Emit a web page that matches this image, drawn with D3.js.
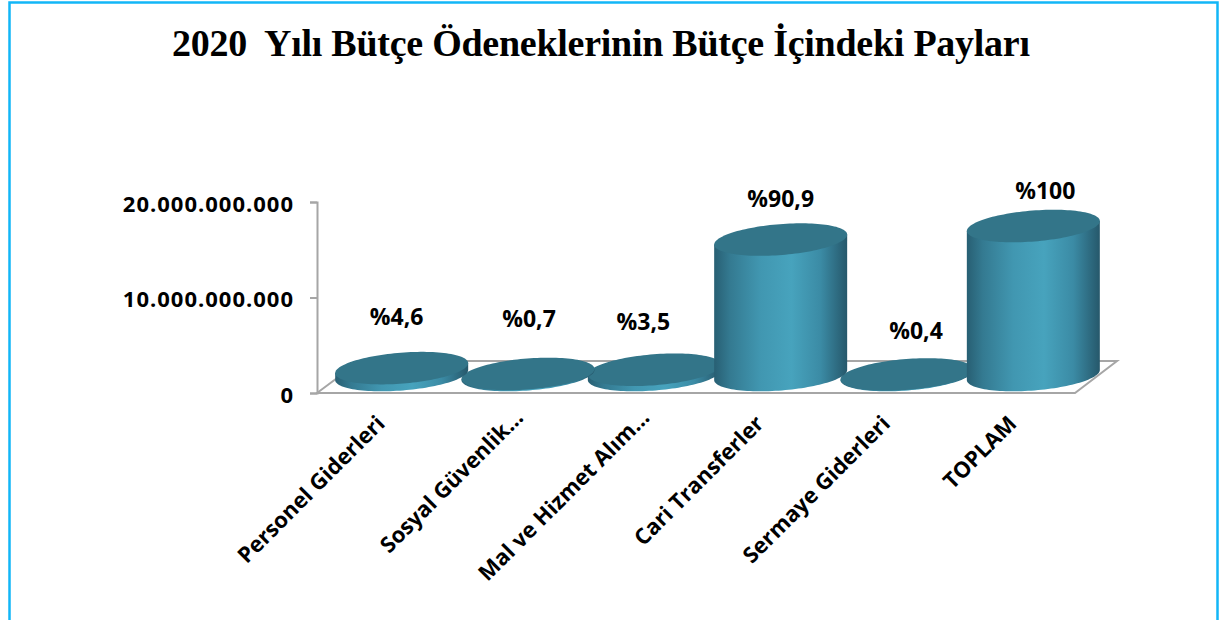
<!DOCTYPE html>
<html lang="tr">
<head>
<meta charset="UTF-8">
<script src="https://d3js.org/d3.v7.min.js"></script>
<style>
  html, body { margin: 0; padding: 0; background: #fff; overflow: hidden; }
  svg { display: block; }
  .title { font-family: "Liberation Serif", serif; font-weight: bold; font-size: 38px; fill: #000; }
  .tick-label, .cat-label, .pct-label { font-family: "Open Sans", sans-serif; font-weight: bold; fill: #000; }
</style>
</head>
<body>
<div id="chart"></div>
<script>
// values
const categories = ["Personel Giderleri", "Sosyal Güvenlik…", "Mal ve Hizmet Alım…", "Cari Transferler", "Sermaye Giderleri", "TOPLAM"];
const amounts = [720000000, 110000000, 550000000, 14180000000, 60000000, 15600000000];
const shares = ["%4,6", "%0,7", "%3,5", "%90,9", "%0,4", "%100"];
const yTicks = [0, 10000000000, 20000000000];
const titleText = "2020  Yılı Bütçe Ödeneklerinin Bütçe İçindeki Payları";

// the share labels were placed by hand in the original
const labelShift = [-5, 1, -11, 0, 9, 12];
const labelLift = [51, 55, 48, 41, 43, 35];
// truncated category labels sit a bit further up the axis
const catNudge = [0, 12, 12, 0, 0, 0];
// stacking of the cylinders as it shows in the picture
const drawOrder = [2, 1, 0, 4, 3, 5];

const width = 1219, height = 620;
const x0 = 317, x1 = 1075, yBase = 393, yTop = 202;
const depthX = 43, depthY = 32;   // floor depth
const rx = 66.5, ry = 15.5, skew = 5;

const svg = d3.select("#chart").append("svg").attr("width", width).attr("height", height);

const grad = svg.append("defs").append("linearGradient").attr("id", "cyl");
[[0, "#285f73"], [0.12, "#347a91"], [0.35, "#4197b1"], [0.58, "#47a3bd"], [0.8, "#3b8ba5"], [1, "#26586b"]]
  .forEach(s => grad.append("stop").attr("offset", s[0]).attr("stop-color", s[1]));

// frame
svg.append("path")
  .attr("d", `M9.5,${height} V2.5 H1217.5 V${height}`)
  .attr("fill", "none").attr("stroke", "#12b6f7").attr("stroke-width", 2.5);

svg.append("text").attr("class", "title")
  .attr("x", 601).attr("y", 56).attr("text-anchor", "middle")
  .attr("textLength", 858).attr("lengthAdjust", "spacing")
  .style("white-space", "pre").text(titleText);

const x = d3.scaleBand().domain(categories).range([x0, x1]);
const y = d3.scaleLinear().domain([0, 20000000000]).range([yBase, yTop]);
const trFormat = d3.formatLocale({ decimal: ",", thousands: ".", grouping: [3], currency: ["", ""] }).format(",d");

// floor
svg.append("path")
  .attr("d", `M${x0},${yBase} L${x0 + depthX},${yBase - depthY} H${x1 + depthX - 1} L${x1},${yBase} Z`)
  .attr("fill", "none").attr("stroke", "#a6a6a6").attr("stroke-width", 2);

// y axis
const yAxis = svg.append("g").attr("transform", `translate(${x0},0)`)
  .call(d3.axisLeft(y).tickValues(yTicks).tickFormat(trFormat).tickSize(7).tickPadding(16));
yAxis.selectAll("line, path").attr("stroke", "#a6a6a6").attr("stroke-width", 2);
yAxis.selectAll("text").attr("class", "tick-label")
  .style("font-size", "22px").style("letter-spacing", "1px")
  .attr("dy", "0.42em");
yAxis.attr("font-family", null);

// cylinder outline helpers
const pt = (cx, cy, t) => [cx + rx * Math.cos(t), cy + ry * Math.sin(t) - skew * Math.cos(t)];
const line = d3.line();
const ellipse = (cx, cy) => line(d3.range(0, 2 * Math.PI, 0.05).map(t => pt(cx, cy, t))) + "Z";
const body = (cx, top, base) => {
  const lower = d3.range(0, Math.PI, 0.05).map(t => pt(cx, base, t));
  lower.push(pt(cx, base, Math.PI));
  const upper = [pt(cx, top, Math.PI), pt(cx, top, 0)];
  return line(lower.concat(upper)) + "Z";
};

const barX = i => x(categories[i]) + x.bandwidth() / 2 + depthX / 2;
const baseY = yBase - 18;
const barTop = i => y(amounts[i]) - 18;

const bars = svg.selectAll(".bar").data(drawOrder).enter().append("g").attr("class", "bar");
bars.append("path").attr("d", i => body(barX(i), barTop(i), baseY)).attr("fill", "url(#cyl)");
bars.append("path").attr("d", i => ellipse(barX(i), barTop(i))).attr("fill", "#337589");

// share labels
svg.selectAll(".pct-label").data(categories).enter().append("text")
  .attr("class", "pct-label")
  .attr("x", (d, i) => barX(i) + labelShift[i])
  .attr("y", (d, i) => barTop(i) - labelLift[i] + 8)
  .attr("text-anchor", "middle")
  .style("font-size", "23px")
  .text((d, i) => shares[i]);

// category labels
svg.selectAll(".cat-label").data(categories).enter().append("text")
  .attr("class", "cat-label")
  .attr("text-anchor", "end")
  .attr("transform", (d, i) => `translate(${x(d) + x.bandwidth() / 2 + 6 + catNudge[i]},${yBase + 32 - catNudge[i] / 2}) rotate(-45)`)
  .style("font-size", "22px")
  .text(d => d);
</script>
</body>
</html>
